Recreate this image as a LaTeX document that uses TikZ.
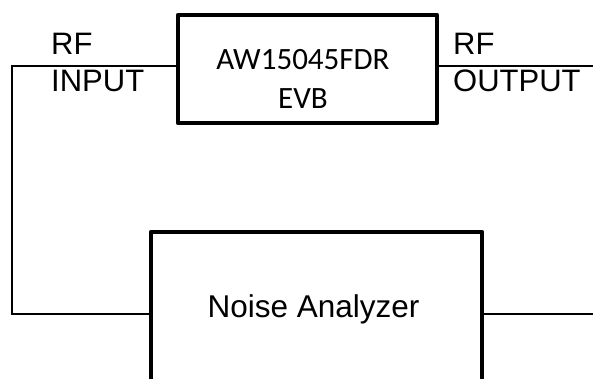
\documentclass[tikz,border=0pt]{standalone}
\usepackage{fontspec}
\newfontfamily\arialfont{Liberation Sans}
\newfontfamily\calibrifont{Carlito}
\usetikzlibrary{positioning}
\definecolor{wire}{HTML}{000000}
\definecolor{ink}{HTML}{000000}
\tikzset{
  blockbox/.style={rectangle, draw=wire, line width=4.6pt, line join=round, inner sep=0pt},
  wireline/.style={draw=wire, line width=2.4pt},
  portlbl/.style={font=\arialfont\fontsize{31}{37}\selectfont, text=ink, align=left, inner sep=0pt, anchor=north west},
  dutlbl/.style={font=\calibrifont\fontsize{31}{39}\selectfont, text=ink, align=center, inner sep=0pt, anchor=north},
  boxlbl/.style={font=\arialfont\fontsize{31.5}{37}\selectfont, text=ink, inner sep=0pt, anchor=base}
}

\begin{document}
\begin{tikzpicture}[x=1pt, y=-1pt]

  % ---- Frame ---------------------------------------------------------------
  \useasboundingbox (0,0) rectangle (593,378);
  \clip (0,0) rectangle (593,378);

  % ---- Blocks --------------------------------------------------------------
  \node[blockbox, minimum width=259pt, minimum height=108pt] (evb) at (307.5, 69) {};
  \node[dutlbl] (evbtxt) at (303, 49) {AW15045FDR\\EVB};

  \node[blockbox, minimum width=331pt, minimum height=164pt] (analyzer) at (316.5, 314) {};
  \node[boxlbl] (analyzertxt) at (313.5, 317) {Noise Analyzer};

  % ---- Wire ends -----------------------------------------------------------
  \coordinate (inbend) at (12, 66);
  \coordinate (outend) at (593, 66);
  \coordinate (anaend) at (593, 314);

  % ---- Connections ---------------------------------------------------------
  \draw[wireline] (inbend -| evb.west) -- (inbend) |- (analyzer.west);
  \draw[wireline] (outend -| evb.east) -- (outend);
  \draw[wireline] (analyzer.east) -- (anaend);

  % ---- Port labels ---------------------------------------------------------
  \node[portlbl] (inlbl) at (51, 33) {RF\\INPUT};
  \node[portlbl] (outlbl) at (453, 33) {RF\\OUTPUT};

\end{tikzpicture}
\end{document}
